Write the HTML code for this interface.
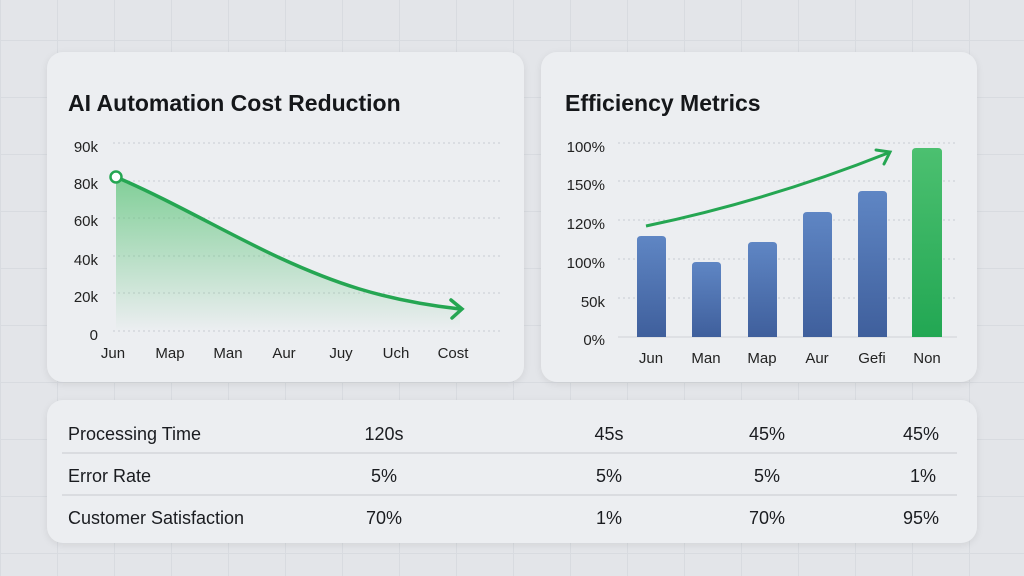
<!DOCTYPE html>
<html><head><style>
body{margin:0;width:1024px;height:576px;overflow:hidden;font-family:"Liberation Sans",sans-serif;color:#1a1c20;
background-color:#e3e5e9;background-image:linear-gradient(#d8dbe0 1px,transparent 1px),linear-gradient(90deg,#d8dbe0 1px,transparent 1px);background-size:57px 57px;background-position:0 40px,0 0;position:relative}
.card{position:absolute;background:#eceef1;border-radius:16px;box-shadow:0 2px 8px rgba(0,0,0,.08)}
svg{position:absolute;left:0;top:0}
</style></head><body>
<div class="card" style="left:47px;top:52px;width:477px;height:330px"></div>
<div class="card" style="left:541px;top:52px;width:436px;height:330px"></div>
<div class="card" style="left:47px;top:400px;width:930px;height:143px"></div>
<svg width="1024" height="576" font-family="Liberation Sans, sans-serif">
<defs>
<linearGradient id="g" x1="0" y1="0" x2="0" y2="1"><stop offset="0" stop-color="#5cc479" stop-opacity=".75"/><stop offset="1" stop-color="#5cc479" stop-opacity="0"/></linearGradient>
<linearGradient id="b" x1="0" y1="0" x2="0" y2="1"><stop offset="0" stop-color="#5f86c4"/><stop offset="1" stop-color="#3f5f9c"/></linearGradient>
<linearGradient id="gr" x1="0" y1="0" x2="0" y2="1"><stop offset="0" stop-color="#4cc070"/><stop offset="1" stop-color="#22a753"/></linearGradient>
</defs>
<text x="68" y="111" font-size="23" font-weight="bold" fill="#15171a">AI Automation Cost Reduction</text>
<g stroke="#c9ccd2" stroke-dasharray="2 3" stroke-width="1">
<line x1="113" x2="502" y1="143" y2="143"/><line x1="113" x2="502" y1="181" y2="181"/><line x1="113" x2="502" y1="218" y2="218"/><line x1="113" x2="502" y1="256" y2="256"/><line x1="113" x2="502" y1="293" y2="293"/><line x1="113" x2="502" y1="331" y2="331"/>
</g>
<g font-size="15" fill="#222" text-anchor="end">
<text x="98" y="152">90k</text><text x="98" y="189">80k</text><text x="98" y="226">60k</text><text x="98" y="265">40k</text><text x="98" y="302">20k</text><text x="98" y="340">0</text>
</g>
<path d="M116 177 C 170 200, 230 235, 280 258 S 380 300, 460 309 L460 331 L116 331Z" fill="url(#g)"/>
<path d="M116 177 C 170 200, 230 235, 280 258 S 380 300, 460 309" fill="none" stroke="#25a652" stroke-width="3.5"/>
<path d="M451 300 L462 309 L452 318" fill="none" stroke="#25a652" stroke-width="3.5" stroke-linecap="round"/>
<circle cx="116" cy="177" r="5.5" fill="#fff" stroke="#25a652" stroke-width="2.5"/>
<g font-size="15" fill="#222" text-anchor="middle">
<text x="113" y="358">Jun</text><text x="170" y="358">Map</text><text x="228" y="358">Man</text><text x="284" y="358">Aur</text><text x="341" y="358">Juy</text><text x="396" y="358">Uch</text><text x="453" y="358">Cost</text>
</g>
<text x="565" y="111" font-size="23" font-weight="bold" fill="#15171a">Efficiency Metrics</text>
<g stroke="#c9ccd2" stroke-dasharray="2 3" stroke-width="1">
<line x1="618" x2="957" y1="143" y2="143"/><line x1="618" x2="957" y1="181" y2="181"/><line x1="618" x2="957" y1="220" y2="220"/><line x1="618" x2="957" y1="259" y2="259"/><line x1="618" x2="957" y1="298" y2="298"/>
</g>
<line x1="618" x2="957" y1="337" y2="337" stroke="#d0d3d8"/>
<g font-size="15" fill="#222" text-anchor="end">
<text x="605" y="152">100%</text><text x="605" y="190">150%</text><text x="605" y="229">120%</text><text x="605" y="268">100%</text><text x="605" y="307">50k</text><text x="605" y="345">0%</text>
</g>
<g fill="url(#b)">
<path d="M637 337V240q0-4 4-4h21q4 0 4 4V337z"/>
<path d="M692 337V266q0-4 4-4h21q4 0 4 4V337z"/>
<path d="M748 337V246q0-4 4-4h21q4 0 4 4V337z"/>
<path d="M803 337V216q0-4 4-4h21q4 0 4 4V337z"/>
<path d="M858 337V195q0-4 4-4h21q4 0 4 4V337z"/>
</g>
<path d="M912 337V152q0-4 4-4h22q4 0 4 4V337z" fill="url(#gr)"/>
<path d="M646 226 Q 770 200, 888 153" fill="none" stroke="#25a652" stroke-width="3"/>
<path d="M876 150 L890 152 L884 164" fill="none" stroke="#25a652" stroke-width="3" stroke-linecap="round"/>
<g font-size="15" fill="#222" text-anchor="middle">
<text x="651" y="363">Jun</text><text x="706" y="363">Man</text><text x="762" y="363">Map</text><text x="817" y="363">Aur</text><text x="872" y="363">Gefi</text><text x="927" y="363">Non</text>
</g>
<g stroke="#d3d6db" stroke-width="1.5"><line x1="62" x2="957" y1="453" y2="453"/><line x1="62" x2="957" y1="495" y2="495"/></g>
<g font-size="18" fill="#1a1c20">
<text x="68" y="440">Processing Time</text><text x="68" y="482">Error Rate</text><text x="68" y="524">Customer Satisfaction</text>
</g>
<g font-size="18" fill="#1a1c20" text-anchor="middle">
<text x="384" y="440">120s</text><text x="609" y="440">45s</text><text x="767" y="440">45%</text><text x="921" y="440">45%</text>
<text x="384" y="482">5%</text><text x="609" y="482">5%</text><text x="767" y="482">5%</text><text x="923" y="482">1%</text>
<text x="384" y="524">70%</text><text x="609" y="524">1%</text><text x="767" y="524">70%</text><text x="921" y="524">95%</text>
</g>
</svg>
</body></html>
